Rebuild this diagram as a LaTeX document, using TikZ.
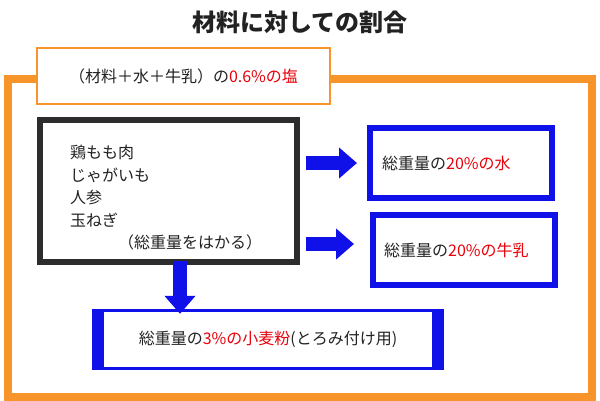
\documentclass[tikz,border=0pt]{standalone}
\usepackage{fontspec}
\setmainfont{Noto Sans CJK JP}
\usetikzlibrary{arrows.meta,positioning,calc}
\definecolor{frameor}{HTML}{F7952B}
\definecolor{boxblue}{HTML}{1010E8}
\definecolor{hired}{HTML}{E8000B}
\definecolor{ink}{HTML}{222222}
\newcommand{\hl}[1]{\textcolor{hired}{#1}}
\begin{document}
\begin{tikzpicture}[x=1pt, y=-1pt, font=\fontsize{16}{22.5}\selectfont, text=ink]
  \tikzset{
    tag/.style={draw=frameor, line width=2pt, fill=white, inner sep=0pt},
    pot/.style={draw=ink!95, line width=6pt, fill=white, inner sep=0pt},
    ratio/.style={draw=boxblue, line width=6pt, fill=white, inner sep=0pt},
    barrow/.style={draw=boxblue, line width=14pt, -{Triangle[length=18pt,width=30pt]}}
  }
  \useasboundingbox (0,0) rectangle (600,400);
  % Title and outer frame
  \node[font=\fontsize{24}{26}\selectfont\bfseries] (title) at (300,22) {材料に対しての割合};
  \draw[frameor, line width=8pt] (8,79) rectangle (592,397);
  \node[tag, minimum width=293, minimum height=56] (salt) at (183.5,76) {（材料＋水＋牛乳）の\hl{0.6\%の塩}};
  % Ingredients
  \node[pot, minimum width=257, minimum height=142] (mat) at (168.5,191) {};
  \node[anchor=north west, align=left, inner sep=0pt] (list) at (70,145)
    {鶏もも肉\\じゃがいも\\人参\\玉ねぎ\\\hspace*{3em}（総重量をはかる）};
  % Ratio boxes
  \node[ratio, minimum width=182, minimum height=70] (water) at (461,163) {};
  \node[anchor=west, inner sep=0pt] (watert) at ([xshift=15]water.west) {総重量の\hl{20\%の水}};
  \node[ratio, minimum width=182, minimum height=70] (milk) at (464,250) {};
  \node[anchor=west, inner sep=0pt] (milkt) at ([xshift=14]milk.west) {総重量の\hl{20\%の牛乳}};
  \node[minimum width=352, minimum height=57, fill=white, inner sep=0pt] (flour) at (268,339.5)
    {総重量の\hl{3\%の小麦粉}(とろみ付け用)};
  \draw[boxblue, line width=3pt] (flour.north west) -- (flour.north east) (flour.south west) -- (flour.south east);
  \draw[boxblue, line width=12pt] ([xshift=6]flour.north west) -- ([xshift=6]flour.south west)
    ([xshift=-6]flour.north east) -- ([xshift=-6]flour.south east);
  % Arrows
  \draw[barrow] ([xshift=6]mat.east |- water.west) -- ([xshift=-10]water.west);
  \draw[barrow] ([xshift=6]mat.east |- 0,244) -- ([xshift=-16]milk.west |- 0,244);
  \draw[barrow] ([yshift=4]mat.south -| 180,0) -- ([yshift=-3]flour.north -| 180,0);
\end{tikzpicture}
\end{document}
